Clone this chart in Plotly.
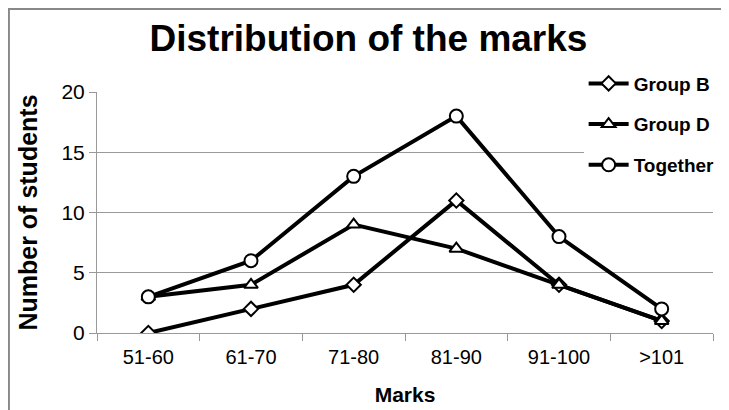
import plotly.graph_objects as go

categories = ["51-60", "61-70", "71-80", "81-90", "91-100", ">101"]
group_b = [0, 2, 4, 11, 4, 1]
group_d = [3, 4, 9, 7, 4, 1]
together = [3, 6, 13, 18, 8, 2]
series_names = ["Group B", "Group D", "Together"]
y_ticks = [0, 5, 10, 15, 20]

FONT = "Liberation Sans, Arial, sans-serif"
symbols = ["diamond", "triangle-up", "circle"]
sizes = [11, 12, 13]

fig = go.Figure()
for i, (name, vals) in enumerate(zip(series_names, [group_b, group_d, together])):
    fig.add_trace(go.Scatter(
        x=categories, y=vals, name="<b>" + name + "</b>", mode="lines+markers",
        line=dict(color="black", width=4),
        marker=dict(symbol=symbols[i], size=sizes[i], color="white",
                    line=dict(color="black", width=2)),
        legendgroup=name,
    ))

# page has an 8px body margin: figure is 721x402 placed at (8, 8)
fig.update_layout(
    width=721, height=402,
    margin=dict(l=89, r=16, t=84, b=77, autoexpand=False),
    paper_bgcolor="white", plot_bgcolor="white",
    font=dict(family=FONT, color="black", size=16),
    title=dict(text="<b>Distribution of the marks</b>", x=0.5, xanchor="center",
               y=0.925, yanchor="middle", font=dict(size=37, family=FONT)),
    showlegend=True,
    legend=dict(x=0.79, xanchor="left", y=1.114, yanchor="top",
                bgcolor="white", font=dict(size=19, family=FONT),
                tracegroupgap=13, itemwidth=40),
    xaxis=dict(type="category", range=[-0.5, 5.5], showgrid=False,
               showline=True, linecolor="#999", linewidth=1, automargin=False,
               ticks="outside", tickson="boundaries", ticklen=7, tickcolor="#999",
               ticklabelstandoff=6,
               title=dict(text="<b>Marks</b>", font=dict(size=21), standoff=20),
               tickfont=dict(size=20)),
    yaxis=dict(range=[0, 20], tickvals=y_ticks, showgrid=True, gridcolor="#999",
               gridwidth=1, zeroline=False, automargin=False,
               showline=True, linecolor="#999", linewidth=1,
               ticks="outside", ticklen=7, tickcolor="#999",
               title=dict(text="<b>Number of students</b>", font=dict(size=25), standoff=16),
               tickfont=dict(size=21)),
)

fig.add_shape(type="rect", xref="paper", yref="paper",
              x0=-0.143, x1=1.2, y0=-0.6, y1=1.344,
              line=dict(color="#888", width=2), fillcolor="rgba(0,0,0,0)", layer="below")

fig.write_html("out.html")
